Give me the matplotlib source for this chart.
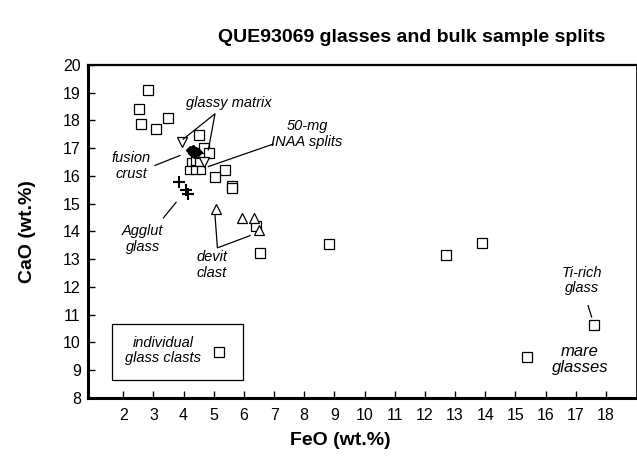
import numpy as np
import matplotlib.pyplot as plt
from matplotlib.patches import Rectangle

plt.rcParams['font.family'] = ['Liberation Sans', 'DejaVu Sans']

# individual glass clasts (open squares)
sq_feo = [2.83, 2.53, 2.59, 3.08, 3.49, 4.51, 4.69, 4.84, 5.38, 5.03, 5.59, 5.61,
          6.53, 8.83, 12.70, 13.91, 15.37, 17.60, 6.40]
sq_cao = [19.10, 18.42, 17.87, 17.71, 18.08, 17.46, 17.00, 16.82, 16.20, 15.98, 15.64, 15.58,
          13.23, 13.56, 13.14, 13.57, 9.47, 10.64, 14.18]

# 50-mg INAA splits (small squares in the cluster)
inaa_feo = [4.25, 4.39, 4.52, 4.18, 4.38, 4.58]
inaa_cao = [16.50, 16.55, 16.50, 16.20, 16.20, 16.20]

# glassy matrix (down triangles)
gm_feo = [3.94, 4.69]
gm_cao = [17.22, 16.49]

# fusion crust (filled diamonds)
fc_feo = [4.22, 4.30, 4.40, 4.27, 4.36, 4.48]
fc_cao = [16.92, 16.98, 16.90, 16.82, 16.80, 16.86]

# agglutinate glass (plus)
ag_feo = [3.85, 4.08, 4.16]
ag_cao = [15.80, 15.50, 15.36]

# devitrified clast (up triangles)
dv_feo = [5.07, 5.95, 6.33, 6.49]
dv_cao = [14.81, 14.47, 14.47, 14.06]

fig = plt.figure(figsize=(6.37, 4.61), dpi=100)
ax = fig.add_axes([0.1377, 0.1367, 0.8607, 0.7223])

mk = dict(linestyle='none', markerfacecolor='white', markeredgecolor='black', markeredgewidth=0.9)
ax.plot(sq_feo, sq_cao, marker='s', markersize=7, **mk)
ax.plot(inaa_feo, inaa_cao, marker='s', markersize=6, **mk)
ax.plot(gm_feo, gm_cao, marker='v', markersize=7, **mk)
ax.plot(dv_feo, dv_cao, marker='^', markersize=7, **mk)
ax.plot(ag_feo, ag_cao, linestyle='none', marker='+', markersize=8, markeredgewidth=1.5, color='black')
ax.plot(fc_feo, fc_cao, linestyle='none', marker='D', markersize=4.2, color='black')

# leader lines
lc = dict(color='black', linewidth=0.9)
ax.plot([3.99, 5.04, 4.82], [17.33, 18.24, 16.94], **lc)
ax.plot([6.97, 4.82], [17.15, 16.34], **lc)
ax.plot([3.05, 3.88], [16.38, 16.74], **lc)
ax.plot([3.33, 3.75], [14.49, 15.05], **lc)
ax.plot([5.04, 5.12, 6.20], [14.60, 13.41, 13.85], **lc)
ax.plot([17.41, 17.53], [11.33, 10.92], **lc)

tk = dict(ha='center', va='center', style='italic', fontsize=10.5, linespacing=1.15)
ax.text(5.5, 18.63, 'glassy matrix', **tk)
ax.text(8.09, 17.52, '50-mg\nINAA splits', **tk)
ax.text(2.26, 16.35, 'fusion\ncrust', **tk)
ax.text(2.65, 13.74, 'Agglut\nglass', **tk)
ax.text(4.94, 12.79, 'devit\nclast', **tk)
ax.text(17.2, 12.23, 'Ti-rich\nglass', **tk)
ax.text(17.14, 9.39, 'mare\nglasses', ha='center', va='center', style='italic', fontsize=12, linespacing=1.1)

# legend box
ax.add_patch(Rectangle((1.62, 8.64), 4.36, 2.04, fill=False, edgecolor='black', linewidth=0.9))
ax.text(3.32, 9.71, 'individual\nglass clasts', **tk)
ax.plot([5.18], [9.65], marker='s', markersize=7, **mk)

ax.set_xlim(0.82, 19.0)
ax.set_ylim(8, 20)
ax.set_xticks(np.arange(2, 19))
ax.set_yticks(np.arange(8, 21))
ax.tick_params(direction='in', length=5, width=1, labelsize=11.5)
ax.tick_params(axis='x', pad=7)
ax.tick_params(axis='y', pad=5)
ax.spines['left'].set_linewidth(2.2)
ax.spines['bottom'].set_linewidth(2.2)
ax.spines['top'].set_linewidth(1.6)
ax.spines['right'].set_linewidth(0.6)

fig.text(340 / 637, 1 - 440 / 461, 'FeO (wt.%)', ha='center', va='center', fontsize=14, fontweight='bold')
fig.text(28 / 637, 1 - 232 / 461, 'CaO (wt.%)', ha='center', va='center', fontsize=14,
         fontweight='bold', rotation=90)
fig.text(412 / 637, 1 - 37 / 461, 'QUE93069 glasses and bulk sample splits', ha='center', va='center',
         fontsize=14, fontweight='bold')

fig.savefig('out.png', dpi=100)
